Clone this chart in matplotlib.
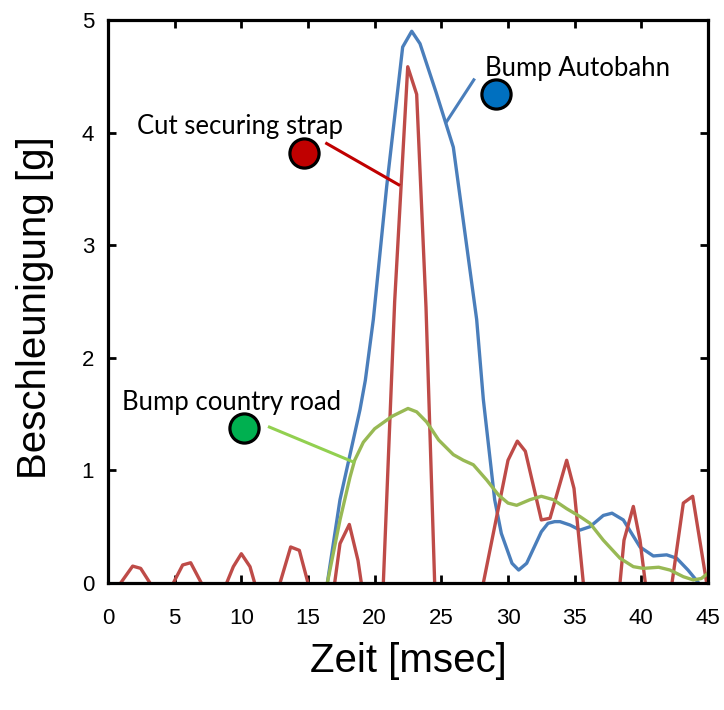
import matplotlib
matplotlib.use('Agg')
import matplotlib.pyplot as plt

# acceleration traces (time in msec, acceleration in g)
strap_t = [0.3, 0.95, 1.85, 2.45, 3.15, 4.0, 4.9, 5.6, 6.2, 7.0, 8.0, 8.9, 9.4, 10.0, 10.65, 11.0,
           12.0, 12.9, 13.7, 14.35, 15.0, 16.0, 17.0, 17.4, 18.1, 18.75, 19.0, 19.8, 20.65, 21.5,
           22.48, 23.15, 23.85, 24.5, 26.3, 28.15, 30.0, 30.7, 31.3, 32.5, 33.15, 34.4, 34.95, 35.65,
           37.0, 38.4, 38.7, 39.4, 39.9, 40.3, 41.3, 42.3, 43.15, 43.85, 44.9, 45.3]
strap_g = [-0.2, 0.0, 0.15, 0.13, 0.0, -0.2, 0.0, 0.16, 0.18, 0.0, -0.2, 0.0, 0.145, 0.26, 0.145, 0.0,
           -0.2, 0.0, 0.32, 0.29, 0.0, -0.2, 0.0, 0.35, 0.52, 0.2, 0.0, -0.2, 0.0, 2.5,
           4.585, 4.34, 2.45, 0.0, -0.3, 0.0, 1.09, 1.26, 1.17, 0.56, 0.575, 1.09, 0.84, 0.0,
           -0.3, 0.0, 0.38, 0.68, 0.38, 0.0, -0.3, 0.0, 0.71, 0.77, 0.0, -0.1]

autobahn_t = [16.1, 16.45, 17.4, 18.0, 18.9, 19.3, 19.9, 20.9, 22.1, 22.78, 23.4, 24.6, 25.9, 27.65, 28.15,
              29.0, 29.5, 30.3, 30.8, 31.4, 32.5, 33.0, 33.5, 33.9, 34.65, 35.4, 36.15, 37.15, 37.8,
              38.65, 39.9, 40.9, 41.9, 42.65, 43.5, 44.3, 45.2]
autobahn_g = [-0.3, 0.0, 0.74, 1.06, 1.54, 1.8, 2.34, 3.52, 4.76, 4.90, 4.79, 4.36, 3.87, 2.34, 1.63,
              0.74, 0.44, 0.175, 0.115, 0.175, 0.455, 0.53, 0.545, 0.545, 0.515, 0.47, 0.5, 0.60, 0.62,
              0.56, 0.32, 0.24, 0.25, 0.22, 0.115, 0.0, -0.1]

country_t = [16.1, 16.45, 17.4, 18.15, 18.5, 19.15, 20.0, 21.3, 22.5, 23.15, 23.9, 24.8, 25.9, 26.65,
             27.4, 28.4, 29.3, 30.0, 30.65, 31.65, 32.5, 33.4, 34.4, 35.4, 36.15, 37.15, 38.4, 39.4,
             40.15, 41.3, 42.15, 43.15, 43.9, 44.5, 45.0]
country_g = [-0.3, 0.0, 0.56, 0.94, 1.09, 1.25, 1.37, 1.48, 1.55, 1.52, 1.43, 1.27, 1.14, 1.09,
             1.05, 0.915, 0.78, 0.71, 0.69, 0.74, 0.77, 0.74, 0.66, 0.59, 0.53, 0.38, 0.22, 0.145,
             0.13, 0.14, 0.115, 0.056, 0.027, 0.04, 0.086]

x_ticks = [0, 5, 10, 15, 20, 25, 30, 35, 40, 45]
y_ticks = [0, 1, 2, 3, 4, 5]

# callouts: text, text pos, marker pos, leader line start/end, marker colour, leader colour
callouts = [
    ('Cut securing strap', (9.9, 4.05), (14.7, 3.82), (16.3, 3.91), (21.9, 3.53), '#C00000', '#C00000'),
    ('Bump Autobahn', (28.3, 4.57), (29.1, 4.34), (27.5, 4.48), (25.3, 4.08), '#0070C0', '#4A7EBB'),
    ('Bump country road', (9.3, 1.60), (10.2, 1.38), (12.0, 1.39), (18.5, 1.07), '#00B050', '#92D050'),
]

fig = plt.figure(figsize=(7.24, 7.10), dpi=100)
ax = fig.add_axes([108 / 724, 1 - 583 / 710, 600 / 724, 563 / 710])

ax.plot(autobahn_t, autobahn_g, color='#4A7EBB', lw=2.4, solid_joinstyle='round')
ax.plot(strap_t, strap_g, color='#BE4B48', lw=2.4, solid_joinstyle='round')
ax.plot(country_t, country_g, color='#98B954', lw=2.4, solid_joinstyle='round')

for text, tpos, mpos, l0, l1, mcol, lcol in callouts:
    ax.plot([l0[0], l1[0]], [l0[1], l1[1]], color=lcol, lw=2.2, solid_capstyle='butt')
    ax.plot(mpos[0], mpos[1], 'o', ms=21, mfc=mcol, mec='black', mew=2.3, zorder=5)
    ha = 'left' if text == 'Bump Autobahn' else 'center'
    ax.text(tpos[0], tpos[1], text, ha=ha, va='center', fontsize=18.5, family='Lato')

ax.set_xlim(0, 45)
ax.set_ylim(0, 5)
ax.set_xticks(x_ticks)
ax.set_yticks(y_ticks)
ax.tick_params(direction='in', length=6, width=2, top=True, right=True, labelsize=16)
ax.tick_params(axis='x', pad=18)
ax.tick_params(axis='y', pad=10)
for lbl in ax.get_xticklabels() + ax.get_yticklabels():
    lbl.set_family('Liberation Sans')
for sp in ax.spines.values():
    sp.set_linewidth(2.3)

ax.set_xlabel('Zeit [msec]', fontsize=29, family='Liberation Sans')
ax.set_ylabel('Beschleunigung [g]', fontsize=29, family='Liberation Sans')
ax.xaxis.set_label_coords(0.5, -0.105)
ax.yaxis.set_label_coords(-0.09, 0.49)

fig.savefig('out.png', dpi=100)
